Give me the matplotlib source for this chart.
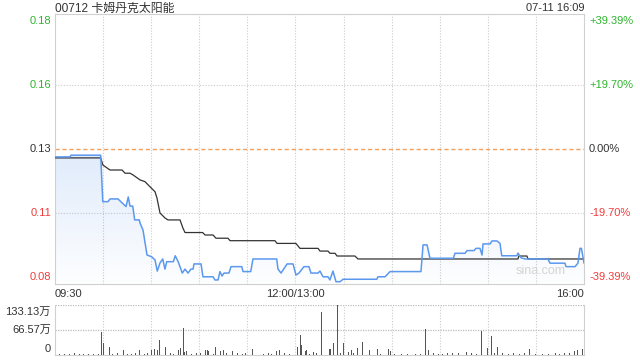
import numpy as np
import matplotlib
matplotlib.use("Agg")
from matplotlib import pyplot as plt
from matplotlib.patches import Polygon

plt.rcParams['font.family'] = ['Liberation Sans', 'Noto Sans CJK SC', 'DejaVu Sans']

# ---- data ----
title = "00712 卡姆丹克太阳能"
stamp = "07-11 16:09"
prev_close = 0.132
pct_steps = [-2, -1, 0, 1, 2]
pct_unit = 0.19695

# minutes since 09:30 (lunch removed, 330 = 16:00)
price_t = [0, 9.4, 10, 28.5, 29.8, 33.1, 34.3, 39.3, 41.2, 44.3, 45.7, 46.8, 48.5, 49.7,
           52.6, 53.0, 54.9, 57.4, 60.3, 62.4, 63.8, 65.5, 67.2, 68.6, 69.7, 73.8, 75.0,
           76.9, 79.4, 81.1, 83.0, 84.8, 86.1, 86.7, 91.1, 92.3, 98.6, 99.8, 101.7, 102.9,
           104.2, 105.4, 108.5, 109.8, 116.5, 117.3, 122.1, 123.5, 138.3, 139.1, 141.0,
           144.8, 148.5, 150.3, 152.2, 155.3, 158.4, 159.7, 164.1, 165.3, 167.2, 170.3,
           171.5, 173.4, 175.3, 177.8, 179.7, 200.7, 201.5, 205.9, 209.0, 228.3, 229.6,
           232.1, 233.9, 248.5, 249.5, 255.8, 257.0, 261.4, 262.6, 265.1, 266.4, 267.0,
           271.4, 272.6, 275.7, 277.6, 278.7, 288.2, 288.8, 290.7, 293.2, 307.5, 308.8,
           318.1, 318.8, 324.4, 326.2, 327.5, 328.4, 330]
price = [0.1288, 0.1288, 0.1295, 0.1295, 0.1107, 0.1107, 0.1118, 0.1118, 0.1106, 0.1087,
         0.1126, 0.1089, 0.1089, 0.1033, 0.1033, 0.1021, 0.0992, 0.0891, 0.0884, 0.0871,
         0.0826, 0.0859, 0.0875, 0.0834, 0.0864, 0.0864, 0.0888, 0.0863, 0.0818, 0.0834,
         0.0818, 0.0834, 0.0834, 0.0855, 0.0855, 0.0803, 0.0803, 0.0790, 0.0790, 0.0824,
         0.0806, 0.0818, 0.0818, 0.0844, 0.0844, 0.0824, 0.0824, 0.0875, 0.0875, 0.0834,
         0.0818, 0.0855, 0.0855, 0.0810, 0.0818, 0.0844, 0.0844, 0.0818, 0.0818, 0.0826,
         0.0803, 0.0803, 0.0790, 0.0826, 0.0783, 0.0783, 0.0793, 0.0793, 0.0803, 0.0803,
         0.0824, 0.0824, 0.0932, 0.0932, 0.0878, 0.0878, 0.0898, 0.0898, 0.0909, 0.0909,
         0.0918, 0.0918, 0.0891, 0.0936, 0.0936, 0.0948, 0.0948, 0.0938, 0.0888, 0.0888,
         0.0899, 0.0880, 0.0875, 0.0875, 0.0858, 0.0858, 0.0844, 0.0844, 0.0858, 0.0918,
         0.0918, 0.0859]

avg_t = [0, 28.5, 29.9, 34.3, 41.8, 43.7, 46.8, 48.7, 53.0, 56.1, 59.3, 62.4, 63.6, 65.5,
         68.6, 70.5, 78.0, 79.8, 81.1, 92.1, 93.6, 98.6, 100.4, 107.9, 109.2, 137.2, 138.5,
         150.3, 152.8, 164.1, 165.3, 170.3, 171.5, 174.7, 175.9, 187.1, 189.0, 288.8,
         289.4, 294.4, 295.1, 330]
avg = [0.1284, 0.1284, 0.1255, 0.1235, 0.1235, 0.1222, 0.1222, 0.1215, 0.1195, 0.1188,
       0.1167, 0.1147, 0.1122, 0.1061, 0.1041, 0.1033, 0.1033, 0.1000, 0.0982, 0.0982,
       0.0972, 0.0972, 0.0959, 0.0959, 0.0949, 0.0949, 0.0938, 0.0938, 0.0918, 0.0918,
       0.0907, 0.0907, 0.0898, 0.0898, 0.0887, 0.0887, 0.0875, 0.0875, 0.0887, 0.0887,
       0.0875, 0.0875]

# volume in 万 shares
vol_t = [0, 29, 30, 34, 43, 53, 60, 62, 63, 64, 65, 68, 69, 77, 78, 80, 81, 82, 94, 95, 96,
         100, 103, 105, 111, 123, 126, 138, 140, 151, 153, 154, 156, 157, 161, 166, 171,
         172, 174, 176, 180, 183, 185, 189, 192, 196, 201, 208, 209, 231, 233, 257, 266,
         267, 270, 272, 276, 296, 324, 326, 329]
vol = [29.3, 62.0, 31.2, 20.5, 13.3, 13.3, 13.3, 15.2, 51.4, 13.3, 39.9, 20.5, 20.5, 13.3,
       17.8, 71.1, 7.2, 10.6, 13.3, 13.3, 11.5, 20.5, 11.5, 13.3, 10.6, 16.0, 24.0, 11.5,
       13.3, 22.1, 53.3, 26.6, 10.6, 13.3, 8.8, 113.7, 16.0, 16.0, 31.2, 133.1, 31.2, 7.2,
       13.3, 19.4, 33.8, 13.3, 15.2, 16.0, 10.6, 69.2, 13.3, 8.8, 63.9, 13.3, 17.8, 50.6,
       20.5, 16.0, 11.5, 13.3, 15.2]
small_t = [3, 6, 9, 12, 15, 18, 21, 24, 27, 36, 39, 45, 48, 50, 56, 58, 72, 74, 85, 88, 91,
           99, 107, 114, 117, 119, 130, 133, 135, 143, 146, 159, 163, 178, 186, 194, 199,
           203, 212, 216, 220, 225, 228, 236, 239, 242, 245, 248, 252, 260, 263, 274, 279,
           283, 286, 290, 293, 300, 304, 308, 312, 315, 318, 321]
small_v = [2.7, 2.7, 2.7, 4, 2.7, 2.7, 2.7, 2.7, 2.7, 2.7, 4, 2.7, 2.7, 4, 2.7, 5, 5, 2.7,
           2.7, 5, 4, 2.7, 4, 5, 2.7, 4, 2.7, 4, 2.7, 5, 2.7, 2.7, 4, 4, 5, 2.7, 5, 2.7, 2.7,
           2.7, 2.7, 2.7, 2.7, 4, 2.7, 2.7, 4, 4, 5, 4, 2.7, 5, 4, 2.7, 4, 2.7, 4, 2.7, 2.7,
           2.7, 4, 2.7, 4, 5]
vol_max = 133.13
vol_labels = ["0", "66.57万", "133.13万"]
x_labels = ["09:30", "12:00/13:00", "16:00"]

GREEN = "#2db52d"
RED = "#f03c3c"
DARK = "#333333"
FRAME = "#d0d0d0"


def px(x, y):
    # pixel position -> figure fraction
    return x / 640.0, 1 - y / 360.0


fig = plt.figure(figsize=(6.4, 3.6), dpi=100)
ax = fig.add_axes([55 / 640, 1 - 284 / 360, 529 / 640, 270 / 360])
axv = fig.add_axes([55 / 640, 1 - 355 / 360, 529 / 640, 50 / 360])

ext = prev_close * 0.3939 * 135 / 128.5
ylo, yhi = prev_close - ext, prev_close + ext
ax.set_xlim(0, 330)
ax.set_ylim(ylo, yhi)

# grid
for gx in range(30, 330, 30):
    ax.axvline(gx, color="#cccccc", lw=0.8, ls=(0, (1, 1.5)), zorder=1)
    axv.axvline(gx, color="#cccccc", lw=0.8, ls=(0, (1, 1.5)), zorder=1)
for k in [-1, 1]:
    ax.axhline(prev_close * (1 + k * pct_unit), color="#cccccc", lw=0.8, ls=(0, (1, 1.5)), zorder=1)
ax.axhline(prev_close, color="#f5a05a", lw=1.0, dashes=(3, 2), zorder=2)

# gradient fill under the price line
verts = [(price_t[0], ylo)] + list(zip(price_t, price)) + [(price_t[-1], ylo)]
clip = Polygon(verts, closed=True, facecolor="none", edgecolor="none")
ax.add_patch(clip)
grad = np.zeros((256, 1, 4))
grad[:, 0, 0] = 0.30
grad[:, 0, 1] = 0.55
grad[:, 0, 2] = 0.92
grad[:, 0, 3] = np.linspace(0.01, 0.18, 256)
im = ax.imshow(grad, extent=[0, 330, ylo, prev_close], origin="lower", aspect="auto", zorder=2)
im.set_clip_path(clip)

ax.plot(avg_t, avg, color="#333333", lw=0.9, zorder=3)
ax.plot(price_t, price, color="#5b98ee", lw=1.1, zorder=4)

for s in ax.spines.values():
    s.set_color(FRAME)
ax.set_xticks([])
ax.set_yticks([])

# price labels left and right
for k in pct_steps:
    v = prev_close * (1 + k * pct_unit)
    c = GREEN if k > 0 else (RED if k < 0 else DARK)
    y = 149 - k * 64.25
    fig.text(*px(51, y), "%.2f" % v, ha="right", va="center", fontsize=8, color=c)
    lab = "0.00%" if k == 0 else "%+.2f%%" % (k * pct_unit * 100)
    fig.text(*px(589, y), lab, ha="left", va="center", fontsize=8, color=c)

fig.text(*px(55, 9), title, ha="left", va="center", fontsize=8.6, color=DARK)
fig.text(*px(584, 8), stamp, ha="right", va="center", fontsize=8, color=DARK)
fig.text(*px(55, 294), x_labels[0], ha="left", va="center", fontsize=8, color=DARK)
fig.text(*px(295, 294), x_labels[1], ha="center", va="center", fontsize=8, color=DARK)
fig.text(*px(584, 294), x_labels[2], ha="right", va="center", fontsize=8, color=DARK)
ax.text(0.965, 0.025, "sina.com", transform=ax.transAxes, ha="right", va="bottom",
        fontsize=9, color="#d4d4d4", zorder=5)

# volume panel
axv.set_xlim(0, 330)
axv.set_ylim(0, vol_max)
axv.bar(small_t, small_v, width=0.6, color="#555555", zorder=3)
axv.bar(vol_t, vol, width=0.6, color="#555555", zorder=3)
axv.axhline(vol_max, color="#bbbbbb", lw=0.9, ls=(0, (1, 1)), zorder=1)
axv.axhline(vol_max / 2, color="#bbbbbb", lw=0.9, ls=(0, (1, 1)), zorder=1)
axv.spines["top"].set_visible(False)
for name in ["left", "right", "bottom"]:
    axv.spines[name].set_color(FRAME)
axv.set_xticks([])
axv.set_yticks([])
for frac, lab in zip([0.13, 0.5, 0.86], vol_labels):
    axv.text(-0.008, frac, lab, transform=axv.transAxes, ha="right", va="center",
             fontsize=8, color=DARK)

fig.savefig("out.png", dpi=100)
